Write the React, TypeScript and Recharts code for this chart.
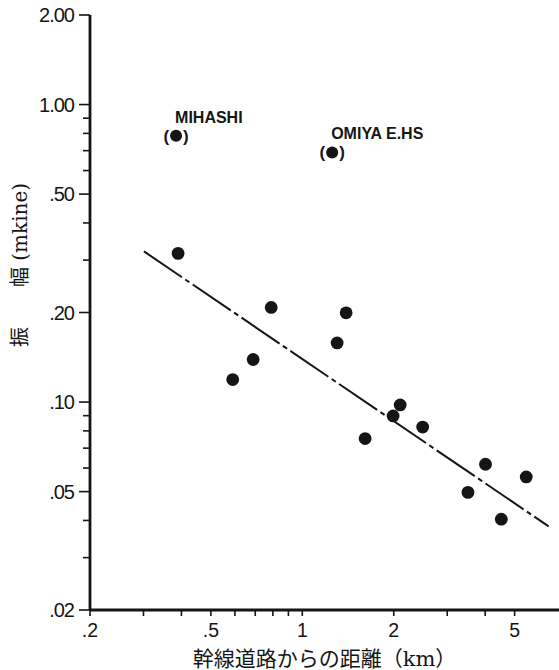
import { ScatterChart, Scatter, XAxis, YAxis, ReferenceLine } from "recharts";

// regular stations: distance from trunk road (km) vs amplitude (mkine)
const distanceKm = [0.39, 0.79, 1.394, 1.302, 0.689, 0.59, 2.1, 1.99, 2.49, 1.61, 4.01, 5.46, 3.51, 4.52];
const amplitude = [0.316, 0.208, 0.1995, 0.158, 0.139, 0.119, 0.0978, 0.0898, 0.0824, 0.0754, 0.0618, 0.056, 0.0497, 0.0404];

// bracketed stations
const outlierNames = ["MIHASHI", "OMIYA E.HS"];
const outlierDistance = [0.384, 1.254];
const outlierAmplitude = [0.785, 0.69];

// fitted line end points
const fitDistance = [0.301, 6.47];
const fitAmplitude = [0.321, 0.0382];

const xMajorTicks = [0.2, 0.5, 1, 2, 5];
const xMajorLabels = [".2", ".5", "1", "2", "5"];
const xMinorTicks = [0.3, 0.4, 0.6, 0.7, 0.8, 0.9, 3, 4];

const yMajorTicks = [0.02, 0.05, 0.1, 0.2, 0.5, 1, 2];
const yMajorLabels = [".02", ".05", ".10", ".20", ".50", "1.00", "2.00"];
const yMinorTicks = [0.03, 0.04, 0.06, 0.07, 0.08, 0.09, 0.3, 0.4, 0.6, 0.7, 0.8, 0.9];

const ink = "#151515";
const tickFont = "'Liberation Sans', Arial, sans-serif";
const titleFont = "'DejaVu Serif', 'Noto Sans CJK JP', serif";

const stations = distanceKm.map((d, i) => ({ d, a: amplitude[i] }));
const outliers = outlierNames.map((name, i) => ({
  name,
  d: outlierDistance[i],
  a: outlierAmplitude[i],
}));

function XTick(props: any) {
  const { x, y, payload } = props;
  const i = xMajorTicks.indexOf(payload.value);
  return (
    <g>
      <line x1={x} x2={x} y1={y} y2={y + 6} stroke={ink} strokeWidth={1.6} />
      {i >= 0 && (
        <text x={x} y={y + 27} textAnchor="middle" fontFamily={tickFont} fontSize={19.5} fill={ink}>
          {xMajorLabels[i]}
        </text>
      )}
    </g>
  );
}

function YTick(props: any) {
  const { x, y, payload } = props;
  const i = yMajorTicks.indexOf(payload.value);
  const len = i >= 0 ? 11 : 7;
  return (
    <g>
      <line x1={x - len} x2={x} y1={y} y2={y} stroke={ink} strokeWidth={1.6} />
      {i >= 0 && (
        <text
          x={x - 16}
          y={y + 7}
          textAnchor="end"
          fontFamily={tickFont}
          fontSize={20}
          letterSpacing={-1}
          fill={ink}
        >
          {yMajorLabels[i]}
        </text>
      )}
    </g>
  );
}

function Dot(props: any) {
  return <circle cx={props.cx} cy={props.cy} r={6.4} fill={ink} />;
}

function BracketDot(props: any) {
  const { cx, cy, payload } = props;
  return (
    <g>
      <circle cx={cx} cy={cy} r={6} fill={ink} />
      <text x={cx - 7} y={cy + 6} textAnchor="end" fontFamily={tickFont} fontWeight="bold" fontSize={17} fill={ink}>
        (
      </text>
      <text x={cx + 7} y={cy + 6} textAnchor="start" fontFamily={tickFont} fontWeight="bold" fontSize={17} fill={ink}>
        )
      </text>
      <text x={cx - 1} y={cy - 13} textAnchor="start" fontFamily={tickFont} fontWeight="bold" fontSize={16} fill={ink}>
        {payload.name}
      </text>
    </g>
  );
}

function YTitle() {
  return (
    <text
      x={20}
      y={265}
      transform="rotate(-90 20 265)"
      textAnchor="middle"
      dominantBaseline="central"
      fontFamily={titleFont}
      fontSize={20}
      fill={ink}
    >
      振　　幅 (mkine)
    </text>
  );
}

export default function App() {
  return (
    <div style={{ position: "absolute", left: 0, top: 0, background: "#fff" }}>
      <ScatterChart width={559} height={670} margin={{ top: 15, right: 0, bottom: 0, left: 0 }}>
        <XAxis
          type="number"
          dataKey="d"
          scale="log"
          domain={[0.2, 7.0]}
          allowDataOverflow
          ticks={[...xMajorTicks, ...xMinorTicks]}
          interval={0}
          tick={<XTick />}
          tickLine={false}
          tickSize={0}
          tickMargin={0}
          height={60}
          axisLine={{ stroke: ink, strokeWidth: 2.8 }}
          label={{
            value: "幹線道路からの距離（km）",
            position: "insideBottom",
            offset: 4,
            fontFamily: titleFont,
            fontSize: 21,
            fill: ink,
          }}
        />
        <YAxis
          type="number"
          dataKey="a"
          scale="log"
          domain={[0.02, 2]}
          allowDataOverflow
          ticks={[...yMajorTicks, ...yMinorTicks]}
          interval={0}
          tick={<YTick />}
          tickLine={false}
          tickSize={0}
          tickMargin={0}
          width={90}
          axisLine={{ stroke: ink, strokeWidth: 2.8 }}
          label={<YTitle />}
        />
        <ReferenceLine
          segment={[
            { x: fitDistance[0], y: fitAmplitude[0] },
            { x: fitDistance[1], y: fitAmplitude[1] },
          ]}
          stroke={ink}
          strokeWidth={2}
          strokeDasharray="46 4 5 4"
          ifOverflow="visible"
        />
        <Scatter data={stations} shape={<Dot />} isAnimationActive={false} />
        <Scatter data={outliers} shape={<BracketDot />} isAnimationActive={false} />
      </ScatterChart>
    </div>
  );
}
